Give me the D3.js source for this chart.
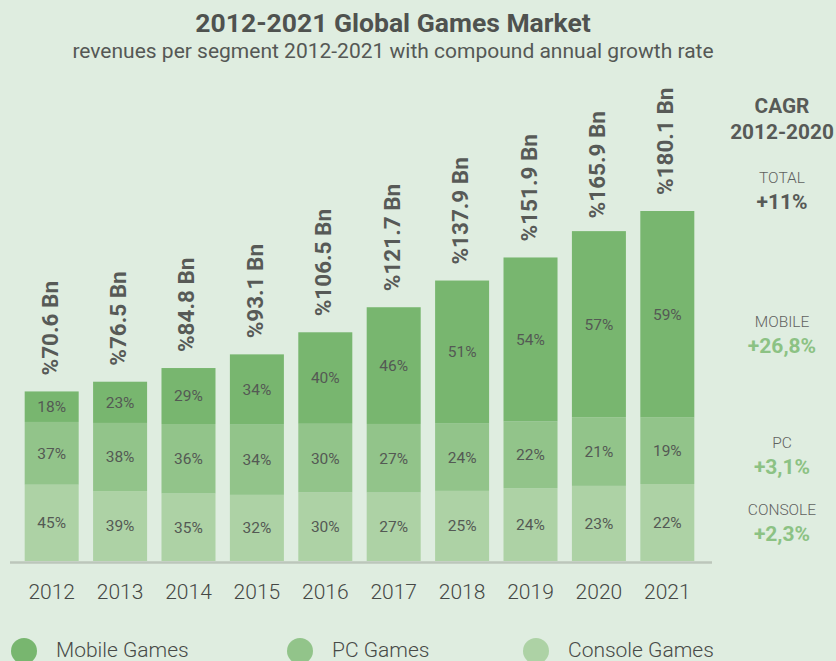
<!DOCTYPE html>
<html>
<head>
<meta charset="utf-8">
<script src="https://cdn.jsdelivr.net/npm/d3@7"></script>
<style>
  html, body { margin: 0; padding: 0; background: #dfede0; }
  svg { display: block; font-family: Roboto, "Noto Sans", sans-serif; }
</style>
</head>
<body>
<svg id="chart" width="836" height="661"></svg>
<script>
// Global games market, revenue per year (billions) and segment shares (%)
const years = ["2012","2013","2014","2015","2016","2017","2018","2019","2020","2021"];
const totals = [70.6, 76.5, 84.8, 93.1, 106.5, 121.7, 137.9, 151.9, 165.9, 180.1];
const consoleShare = [45, 39, 35, 32, 30, 27, 25, 24, 23, 22];
const pcShare      = [37, 38, 36, 34, 30, 27, 24, 22, 21, 19];
const mobileShare  = [18, 23, 29, 34, 40, 46, 51, 54, 57, 59];

const segments = ["Console Games", "PC Games", "Mobile Games"];
const legendOrder = ["Mobile Games", "PC Games", "Console Games"];
const segColors = { "Mobile Games": "#78b66f", "PC Games": "#92c48a", "Console Games": "#add2a5" };

// CAGR 2012-2020 side panel
const cagrLabels = ["TOTAL", "MOBILE", "PC", "CONSOLE"];
const cagrValues = ["+11%", "+26,8%", "+3,1%", "+2,3%"];

const svg = d3.select("#chart");

const x = d3.scaleBand()
  .domain(years)
  .range([17.5, 701.5])
  .paddingInner(0.2105)
  .paddingOuter(0.105);

// bars rise from a shared floor; heights grow linearly with revenue
const y = d3.scaleLinear().domain([-32.3, 180.1]).range([561, 211]);
const baseY = y(-32.3);

const rows = years.map((yr, i) => ({
  year: yr,
  total: totals[i],
  shares: { "Console Games": consoleShare[i], "PC Games": pcShare[i], "Mobile Games": mobileShare[i] }
}));

// title
svg.append("text")
  .attr("x", 393).attr("y", 32)
  .attr("text-anchor", "middle")
  .attr("font-size", 26.5).attr("font-weight", 700)
  .attr("fill", "#4f524f")
  .text("2012-2021 Global Games Market");
svg.append("text")
  .attr("x", 393).attr("y", 58)
  .attr("text-anchor", "middle")
  .attr("font-size", 21)
  .attr("fill", "#555855")
  .text("revenues per segment 2012-2021 with compound annual growth rate");

// stacked bars
const barG = svg.append("g");
rows.forEach(d => {
  const top = y(d.total);
  const h = baseY - top;
  let cursor = baseY;
  const bx = x(d.year), bw = x.bandwidth();
  segments.forEach(s => {
    const sh = h * d.shares[s] / 100;
    const sy = cursor - sh;
    barG.append("rect")
      .attr("x", bx).attr("y", sy)
      .attr("width", bw).attr("height", sh)
      .attr("fill", segColors[s]);
    barG.append("text")
      .attr("x", bx + bw / 2).attr("y", sy + sh / 2)
      .attr("dy", "0.35em")
      .attr("text-anchor", "middle")
      .attr("font-size", 15.5)
      .attr("fill", "#545954")
      .text(d.shares[s] + "%");
    cursor = sy;
  });
  // rotated total label
  barG.append("text")
    .attr("transform", `translate(${bx + bw / 2 + 6},${top - 16}) rotate(-90)`)
    .attr("font-size", 22.5).attr("font-weight", 700)
    .attr("fill", "#575a57")
    .text("%" + d.total.toFixed(1) + " Bn");
});

// baseline axis
svg.append("line")
  .attr("x1", 10).attr("x2", 712)
  .attr("y1", 562.5).attr("y2", 562.5)
  .attr("stroke", "#bcc6bb").attr("stroke-width", 2.5);

const xAxis = svg.append("g")
  .attr("transform", "translate(0,562)")
  .call(d3.axisBottom(x).tickSize(0).tickPadding(22));
xAxis.select(".domain").remove();
xAxis.selectAll("text")
  .attr("font-size", 21)
  .attr("font-weight", 300)
  .attr("font-family", "Roboto, sans-serif")
  .attr("fill", "#454845");

// CAGR panel
const cx = 782;
svg.append("text").attr("x", cx).attr("y", 113).attr("text-anchor", "middle")
  .attr("font-size", 20.8).attr("font-weight", 700).attr("fill", "#575a57").text("CAGR");
svg.append("text").attr("x", cx).attr("y", 139).attr("text-anchor", "middle")
  .attr("font-size", 20.8).attr("font-weight", 700).attr("fill", "#575a57").text("2012-2020");

const cagrLabelY = [183, 327, 448, 515];
cagrLabels.forEach((lab, i) => {
  svg.append("text").attr("x", cx).attr("y", cagrLabelY[i]).attr("text-anchor", "middle")
    .attr("font-size", 15.5).attr("font-weight", 300).attr("fill", "#5f625f").text(lab);
  svg.append("text").attr("x", cx).attr("y", cagrLabelY[i] + 26).attr("text-anchor", "middle")
    .attr("font-size", 21).attr("font-weight", 700)
    .attr("fill", i === 0 ? "#575a57" : "#8cc284")
    .text(cagrValues[i]);
});

// legend
const legendX = [24, 300, 536];
legendOrder.forEach((s, i) => {
  svg.append("circle").attr("cx", legendX[i]).attr("cy", 651).attr("r", 13)
    .attr("fill", segColors[s]);
  svg.append("text").attr("x", legendX[i] + 32).attr("y", 657)
    .attr("font-size", 21).attr("font-weight", 300).attr("fill", "#474a47").text(s);
});
</script>
</body>
</html>
